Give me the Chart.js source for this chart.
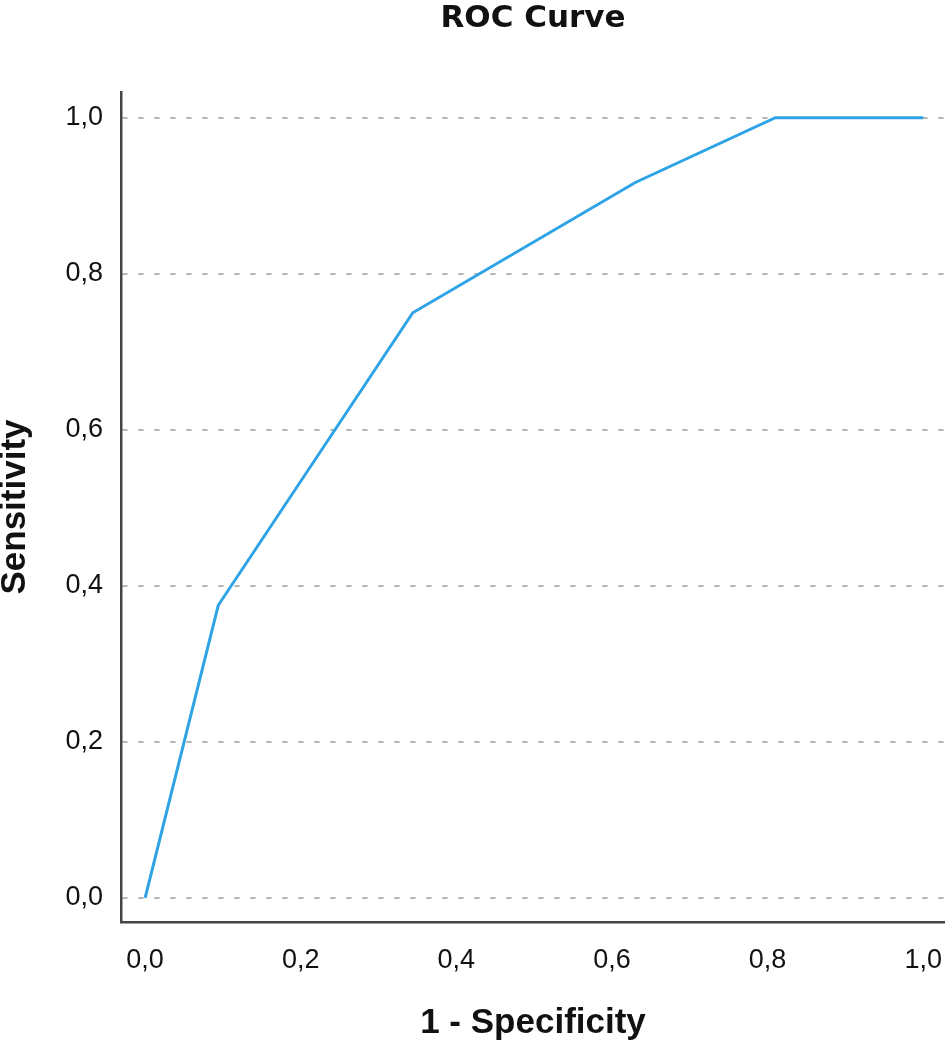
<!DOCTYPE html>
<html>
<head>
<meta charset="utf-8">
<script src="https://cdn.jsdelivr.net/npm/chart.js@4/dist/chart.umd.min.js"></script>
<style>
  html, body { margin: 0; padding: 0; background: #fff; }
  #wrap { width: 945px; height: 1048px; }
</style>
</head>
<body>
<div id="wrap"><canvas id="roc" width="945" height="1048"></canvas></div>
<script>
// ROC points
var fpr = [0, 0.094, 0.344, 0.63, 0.81, 1.0];    // 1 - Specificity
var tpr = [0, 0.375, 0.75, 0.917, 1.0, 1.0];     // Sensitivity
var tickValues = [0, 0.2, 0.4, 0.6, 0.8, 1.0];

var points = [];
for (var i = 0; i < fpr.length; i++) {
  points.push({ x: fpr[i], y: tpr[i] });
}

function fmt(v) {
  return Number(v).toFixed(1).replace('.', ',');
}

function fixedTicks(scale) {
  scale.ticks = tickValues.map(function(v) { return { value: v }; });
}

var ctx = document.getElementById('roc').getContext('2d');
new Chart(ctx, {
  type: 'line',
  data: {
    datasets: [{
      data: points,
      xAxisID: 'x',
      yAxisID: 'y',
      borderColor: '#2ea3e6',
      borderWidth: 3,
      pointRadius: 0,
      tension: 0,
      fill: false
    }]
  },
  options: {
    responsive: false,
    animation: false,
    layout: { padding: 0 },
    plugins: {
      legend: { display: false },
      tooltip: { enabled: false }
    },
    scales: {
      x: {
        type: 'linear',
        min: -0.031,
        max: 1.028,
        afterBuildTicks: fixedTicks,
        afterFit: function(scale) {
          scale.height = 126;
          scale.paddingLeft = 0;
          scale.paddingRight = 0;
        },
        grid: { display: false, drawTicks: false },
        border: { display: true, color: '#444', width: 2.5 },
        ticks: {
          padding: 22,
          color: '#111',
          font: { family: 'Liberation Sans', size: 27 },
          callback: fmt
        },
        title: {
          display: true,
          text: '1 - Specificity',
          color: '#111',
          font: { family: 'Liberation Sans', size: 35, weight: 'bold', lineHeight: 1.0 },
          padding: { top: 0, bottom: 7 }
        }
      },
      y: {
        type: 'linear',
        min: -0.031,
        max: 1.033,
        afterBuildTicks: fixedTicks,
        afterFit: function(scale) {
          scale.width = 121;
          scale.paddingTop = 0;
          scale.paddingBottom = 0;
        },
        grid: {
          display: true,
          drawTicks: false,
          color: '#b4b4b4',
          lineWidth: 2
        },
        border: { display: true, color: '#444', width: 2.5, dash: [5, 11] },
        ticks: {
          padding: 18,
          color: '#111',
          font: { family: 'Liberation Sans', size: 27 },
          callback: fmt
        },
        title: {
          display: true,
          text: 'Sensitivity',
          color: '#111',
          font: { family: 'Liberation Sans', size: 35, weight: 'bold', lineHeight: 1.0 },
          padding: { top: -2, bottom: 0 }
        }
      },
      // top axis only carries the chart title, centred over the plot area
      top: {
        type: 'linear',
        position: 'top',
        min: 0,
        max: 1,
        afterFit: function(scale) {
          scale.height = 92;
          scale.paddingLeft = 0;
          scale.paddingRight = 0;
        },
        grid: { display: false, drawTicks: false },
        border: { display: false },
        ticks: { display: false },
        title: {
          display: true,
          text: 'ROC Curve',
          color: '#111',
          font: { family: 'DejaVu Sans', size: 31, weight: 'bold', lineHeight: 1.2 },
          padding: { top: 0, bottom: 0 }
        }
      }
    }
  }
});
</script>
</body>
</html>
